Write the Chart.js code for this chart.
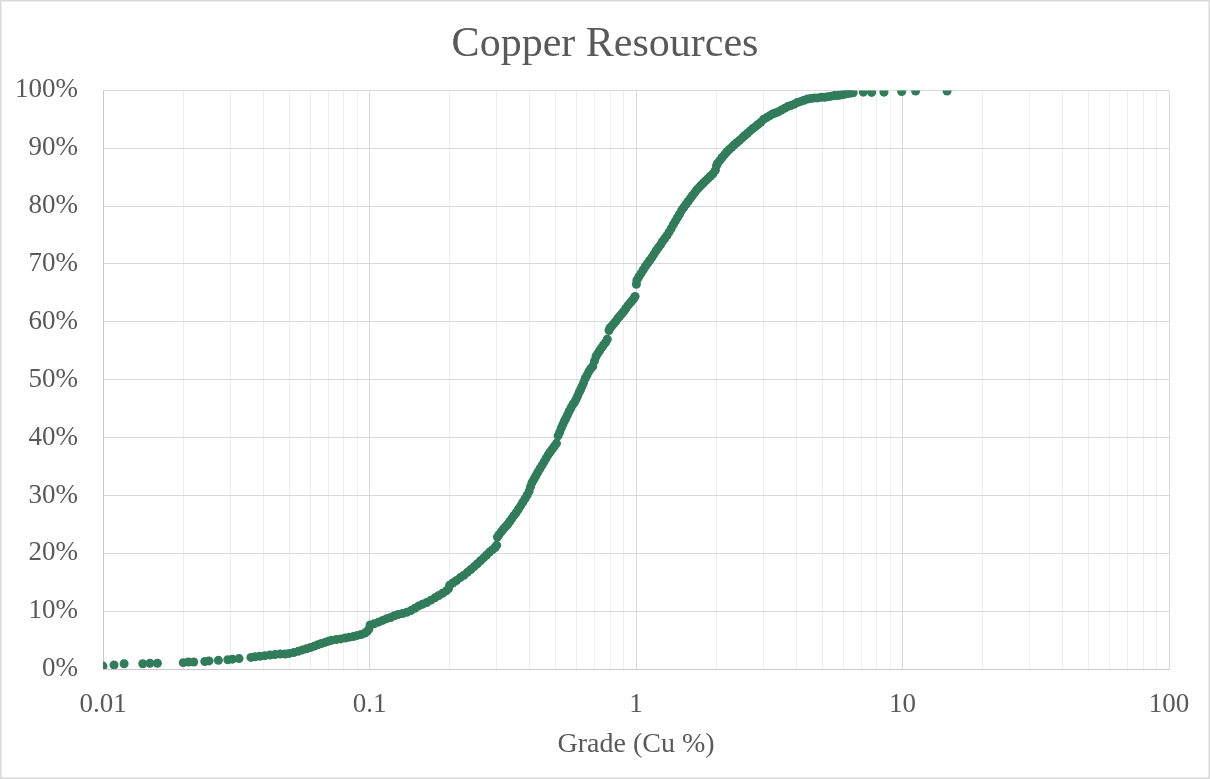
<!DOCTYPE html>
<html lang="en">
<head>
<meta charset="utf-8">
<title>Copper Resources</title>
<style>
    html, body { margin: 0; padding: 0; background: #fff; }
    #wrap { width: 1210px; height: 779px; }
</style>
</head>
<body>
<div id="wrap"><canvas id="copperChart"></canvas></div>

<script src="https://cdn.jsdelivr.net/npm/chart.js"></script>
<script>
    // Cumulative distribution of copper grade
    const gradeCu = [
        // low tail
        0.0100, 0.0110, 0.0120, 0.0141, 0.0150, 0.0160, 0.0200, 0.0209, 0.0219, 0.0241,
        0.0250, 0.0271, 0.0294, 0.0306, 0.0324, 0.0359, 0.0372, 0.0388, 0.0405, 0.0423,
        0.0442, 0.0462, 0.0482,
        // 0.05 - 0.1
        0.0500, 0.0520, 0.0540, 0.0560, 0.0580, 0.0600, 0.0620, 0.0640, 0.0660, 0.0680,
        0.0700, 0.0720, 0.0750, 0.0780, 0.0810, 0.0840, 0.0870, 0.0900, 0.0930, 0.0960,
        0.0980, 0.0995,
        // 0.1 - 0.2
        0.1005, 0.1040, 0.1080, 0.1120, 0.1160, 0.1200, 0.1240, 0.1280, 0.1330, 0.1380,
        0.1430, 0.1480, 0.1530, 0.1580, 0.1640, 0.1700, 0.1760, 0.1820, 0.1880, 0.1940,
        0.1980,
        // 0.2 - 0.3
        0.2000, 0.2060, 0.2120, 0.2190, 0.2260, 0.2330, 0.2400, 0.2470, 0.2540, 0.2610,
        0.2680, 0.2750, 0.2820, 0.2890, 0.2960, 0.3000,
        // 0.3 - 0.5
        0.3020, 0.3060, 0.3120, 0.3180, 0.3240, 0.3300, 0.3360, 0.3420, 0.3480, 0.3550,
        0.3620, 0.3690, 0.3760, 0.3830, 0.3900, 0.3970, 0.4020, 0.4070, 0.4140, 0.4210,
        0.4280, 0.4360, 0.4440, 0.4520, 0.4600, 0.4680, 0.4760, 0.4850, 0.4940, 0.5030,
        // 0.5 - 1
        0.5100, 0.5170, 0.5240, 0.5310, 0.5380, 0.5450, 0.5530, 0.5610, 0.5700, 0.5790,
        0.5880, 0.5960, 0.6040, 0.6120, 0.6200, 0.6280, 0.6360, 0.6450, 0.6550, 0.6650,
        0.6760, 0.6880, 0.6980, 0.7080, 0.7180, 0.7300, 0.7420, 0.7550, 0.7680, 0.7800,
        0.7920, 0.8000, 0.8120, 0.8260, 0.8400, 0.8550, 0.8700, 0.8850, 0.9000, 0.9160,
        0.9320, 0.9480, 0.9640, 0.9800, 0.9920,
        // 1 - 2
        1.0030, 1.0080, 1.0250, 1.0450, 1.0650, 1.0850, 1.1050, 1.1250, 1.1460, 1.1680,
        1.1900, 1.2120, 1.2350, 1.2580, 1.2820, 1.3060, 1.3300, 1.3550, 1.3800, 1.4050,
        1.4300, 1.4560, 1.4840, 1.5120, 1.5400, 1.5680, 1.5970, 1.6270, 1.6580, 1.6900,
        1.7220, 1.7550, 1.7900, 1.8280, 1.8660, 1.9050, 1.9450, 1.9850, 2.0050,
        // 2 - 4.7
        2.0250, 2.0650, 2.1050, 2.1500, 2.1950, 2.2400, 2.2900, 2.3400, 2.3950, 2.4500,
        2.5050, 2.5600, 2.6200, 2.6800, 2.7400, 2.8000, 2.8700, 2.9400, 3.0100, 3.0900,
        3.1700, 3.2500, 3.3300, 3.4200, 3.5100, 3.6100, 3.7100, 3.8100, 3.9200, 4.0300,
        4.1500, 4.2700, 4.4000, 4.5300, 4.6600,
        // upper tail
        4.8000, 4.9500, 5.1000, 5.2500, 5.4000, 5.5500, 5.7000, 5.8500, 6.0000, 6.1700,
        6.3500, 6.5300, 7.1300, 7.6600, 8.5200, 9.9300, 11.200, 14.700
    ];
    const cumulativePct = [
        // low tail
        0.5, 0.7, 0.9, 0.9, 1.0, 1.0, 1.1, 1.2, 1.2, 1.3,
        1.4, 1.5, 1.6, 1.7, 1.8, 2.0, 2.1, 2.2, 2.3, 2.4,
        2.5, 2.6, 2.6,
        // 0.05 - 0.1
        2.7, 2.85, 3.05, 3.3, 3.5, 3.7, 3.95, 4.2, 4.4, 4.6,
        4.8, 4.95, 5.1, 5.2, 5.35, 5.5, 5.6, 5.8, 5.95, 6.2,
        6.5, 6.9,
        // 0.1 - 0.2
        7.6, 7.8, 8.1, 8.4, 8.7, 8.9, 9.2, 9.4, 9.6, 9.8,
        10.1, 10.5, 10.9, 11.2, 11.5, 11.9, 12.3, 12.7, 13.1, 13.5,
        13.9,
        // 0.2 - 0.3
        14.5, 14.9, 15.3, 15.8, 16.2, 16.7, 17.2, 17.7, 18.2, 18.7,
        19.2, 19.7, 20.2, 20.6, 21.0, 21.4,
        // 0.3 - 0.5
        22.8, 23.2, 23.7, 24.2, 24.6, 25.0, 25.5, 26.0, 26.5, 27.0,
        27.6, 28.2, 28.8, 29.4, 30.0, 30.7, 31.5, 32.2, 32.8, 33.4,
        34.0, 34.6, 35.2, 35.8, 36.4, 37.0, 37.5, 38.0, 38.5, 39.0,
        // 0.5 - 1
        40.3, 40.9, 41.6, 42.2, 42.8, 43.3, 43.9, 44.5, 45.1, 45.7,
        46.1, 46.6, 47.2, 47.8, 48.3, 48.9, 49.5, 50.2, 50.8, 51.4,
        51.9, 52.3, 53.2, 54.0, 54.5, 55.0, 55.5, 56.0, 56.4, 57.0,
        58.5, 59.0, 59.3, 59.7, 60.1, 60.6, 61.0, 61.4, 61.8, 62.3,
        62.8, 63.2, 63.6, 64.0, 64.4,
        // 1 - 2
        66.5, 67.2, 67.8, 68.4, 69.0, 69.6, 70.1, 70.6, 71.1, 71.7,
        72.3, 72.8, 73.3, 73.9, 74.4, 74.9, 75.5, 76.1, 76.8, 77.4,
        78.0, 78.6, 79.3, 79.8, 80.3, 80.8, 81.3, 81.8, 82.3, 82.8,
        83.2, 83.6, 84.0, 84.4, 84.8, 85.2, 85.6, 86.2, 87.0,
        // 2 - 4.7
        87.4, 87.9, 88.4, 88.9, 89.4, 89.8, 90.2, 90.6, 91.0, 91.4,
        91.8, 92.2, 92.6, 93.0, 93.4, 93.7, 94.1, 94.5, 95.0, 95.3,
        95.6, 95.9, 96.1, 96.3, 96.6, 96.9, 97.2, 97.4, 97.6, 97.9,
        98.1, 98.3, 98.5, 98.6, 98.7,
        // upper tail
        98.7, 98.8, 98.8, 98.9, 99.0, 99.1, 99.1, 99.2, 99.3, 99.4,
        99.5, 99.6, 99.7, 99.65, 99.7, 99.8, 99.9, 99.9
    ];

    // Axis ticks
    const xDecades = [0.01, 0.1, 1, 10, 100];
    const xDecadeLabels = ['0.01', '0.1', '1', '10', '100'];
    const minorSteps = [2, 3, 4, 5, 6, 7, 8, 9];
    const yTickValues = [0, 10, 20, 30, 40, 50, 60, 70, 80, 90, 100];

    const serif = "'Liberation Serif', 'Times New Roman', serif";
    const textGrey = '#595959';
    const dotGreen = '#317c5a';

    // all log ticks: decades plus 2..9 in between (for the light minor grid)
    const xAllTicks = [];
    xDecades.forEach((d, i) => {
        xAllTicks.push(d);
        if (i < xDecades.length - 1) {
            minorSteps.forEach(m => xAllTicks.push(+(d * m).toPrecision(3)));
        }
    });

    const points = gradeCu.map((g, i) => ({ x: g, y: cumulativePct[i] }));

    // white background + thin frame round the whole picture
    const framePlugin = {
        id: 'frame',
        beforeDraw(chart) {
            const c = chart.ctx;
            c.save();
            c.fillStyle = '#fff';
            c.fillRect(0, 0, chart.width, chart.height);
            c.strokeStyle = '#d9d9d9';
            c.lineWidth = 1.5;
            c.strokeRect(0.75, 0.75, chart.width - 1.5, chart.height - 1.5);
            c.restore();
        }
    };

    const ctx = document.getElementById('copperChart').getContext('2d');
    new Chart(ctx, {
        type: 'scatter',
        data: {
            datasets: [{
                label: 'Copper Resources',
                data: points,
                backgroundColor: dotGreen,
                borderColor: dotGreen,
                borderWidth: 0,
                pointRadius: 4.5,
                pointHoverRadius: 4.5
            }]
        },
        options: {
            responsive: true,
            maintainAspectRatio: false,
            animation: false,
            layout: { padding: 0 },
            plugins: {
                legend: { display: false },
                tooltip: { enabled: false },
                title: {
                    display: true,
                    text: 'Copper Resources',
                    color: textGrey,
                    font: { family: serif, size: 42, weight: 'normal' },
                    padding: { top: 20, bottom: 20 }
                }
            },
            scales: {
                x: {
                    type: 'logarithmic',
                    min: 0.01,
                    max: 100,
                    afterBuildTicks: s => { s.ticks = xAllTicks.map(v => ({ value: v })); },
                    afterFit: s => { s.height = 110; },
                    ticks: {
                        autoSkip: false,
                        maxRotation: 0,
                        padding: 20,
                        color: textGrey,
                        font: { family: serif, size: 27 },
                        callback: v => {
                            const k = xDecades.findIndex(d => Math.abs(d - v) < d * 1e-6);
                            return k >= 0 ? xDecadeLabels[k] : '';
                        }
                    },
                    grid: {
                        drawTicks: false,
                        color: c => (c.tick && xDecades.some(d => Math.abs(d - c.tick.value) < d * 1e-6)) ? '#d9d9d9' : '#efefef'
                    },
                    border: { color: '#c8c8c8' },
                    title: {
                        display: true,
                        text: 'Grade (Cu %)',
                        color: textGrey,
                        font: { family: serif, size: 28 },
                        padding: { top: 0, bottom: 18 }
                    }
                },
                y: {
                    min: 0,
                    max: 100,
                    afterBuildTicks: s => { s.ticks = yTickValues.map(v => ({ value: v })); },
                    afterFit: s => { s.width = 103; },
                    ticks: {
                        padding: 25,
                        color: textGrey,
                        font: { family: serif, size: 27 },
                        callback: v => v + '%'
                    },
                    grid: { drawTicks: false, color: '#d9d9d9' },
                    border: { color: '#c8c8c8' }
                },
                // empty right-hand strip so the plot stops short of the edge
                // while the title stays centred on the whole picture
                yRight: {
                    position: 'right',
                    min: 0,
                    max: 100,
                    afterFit: s => { s.width = 41; },
                    ticks: { display: false },
                    grid: { display: false, drawTicks: false },
                    border: { display: false }
                }
            }
        },
        plugins: [framePlugin]
    });
</script>
</body>
</html>
